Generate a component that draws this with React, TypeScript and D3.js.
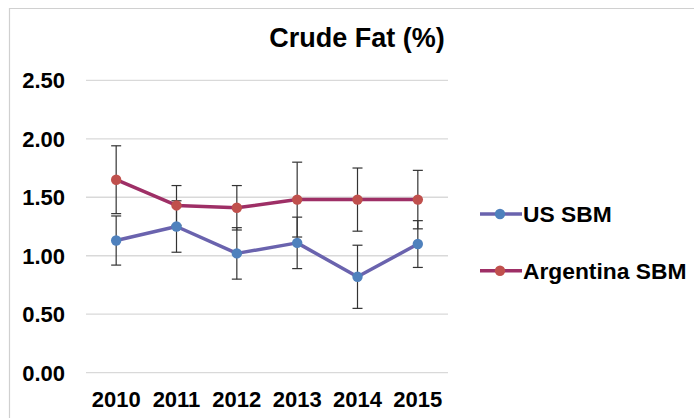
import React from "react";
import * as d3 from "d3";

const years = ["2010", "2011", "2012", "2013", "2014", "2015"];
const usValues = [1.13, 1.25, 1.02, 1.11, 0.82, 1.1];
const usErrors = [0.21, 0.22, 0.22, 0.22, 0.27, 0.2];
const arValues = [1.65, 1.43, 1.41, 1.48, 1.48, 1.48];
const arErrors = [0.29, 0.17, 0.19, 0.32, 0.27, 0.25];
const yTicks = [0, 0.5, 1, 1.5, 2, 2.5];
const seriesNames = ["US SBM", "Argentina SBM"];
const title = "Crude Fat (%)";

const W = 694;
const H = 418;
const FONT = "'Liberation Sans', Arial, sans-serif";

export default function App() {
  const x = d3.scaleBand<string>().domain(years).range([86, 448]);
  const y = d3.scaleLinear().domain([0, 2.5]).range([372.7, 80.3]);
  const cx = (d: string) => (x(d) as number) + x.bandwidth() / 2;

  const series = [
    { name: seriesNames[0], values: usValues, errors: usErrors, line: "#6A63AE", marker: "#4F81BD" },
    { name: seriesNames[1], values: arValues, errors: arErrors, line: "#9E2F66", marker: "#C0504D" },
  ];

  const lineGen = d3
    .line<number>()
    .x((_, i) => cx(years[i]))
    .y((v) => y(v));

  return (
    <svg width={W} height={H} style={{ position: "absolute", left: 0, top: 0 }}>
      <rect x={0} y={0} width={W} height={H} fill="#fff" />
      <path d={`M9.5,${H} V8.5 H${W}`} fill="none" stroke="#d0d0d0" strokeWidth={1.2} />
      <text x={357} y={47} textAnchor="middle" fontFamily={FONT} fontWeight="bold" fontSize={27} fill="#000">
        {title}
      </text>
      {yTicks.map((t) => (
        <g key={t}>
          <line x1={86} x2={448} y1={y(t)} y2={y(t)} stroke="#d9d9d9" strokeWidth={1.3} />
          <text x={65} y={y(t) + 7.8} textAnchor="end" fontFamily={FONT} fontWeight="bold" fontSize={22} fill="#000">
            {t.toFixed(2)}
          </text>
        </g>
      ))}
      {years.map((yr) => (
        <text key={yr} x={cx(yr)} y={407} textAnchor="middle" fontFamily={FONT} fontWeight="bold" fontSize={22} fill="#000">
          {yr}
        </text>
      ))}
      {series.map((s) => (
        <g key={s.name}>
          {s.values.map((v, i) => {
            const px = cx(years[i]);
            const top = y(v + s.errors[i]);
            const bot = y(v - s.errors[i]);
            return (
              <g key={i} stroke="#333" strokeWidth={1.2}>
                <line x1={px} x2={px} y1={top} y2={bot} />
                <line x1={px - 5} x2={px + 5} y1={top} y2={top} />
                <line x1={px - 5} x2={px + 5} y1={bot} y2={bot} />
              </g>
            );
          })}
        </g>
      ))}
      {series.map((s) => (
        <g key={s.name + "l"}>
          <path d={lineGen(s.values) as string} fill="none" stroke={s.line} strokeWidth={3.5} strokeLinejoin="round" />
          {s.values.map((v, i) => (
            <circle key={i} cx={cx(years[i])} cy={y(v)} r={5.2} fill={s.marker} />
          ))}
        </g>
      ))}
      {series.map((s, i) => {
        const ly = 214 + i * 56.7;
        return (
          <g key={s.name + "g"}>
            <line x1={480} x2={522} y1={ly} y2={ly} stroke={s.line} strokeWidth={3.5} />
            <circle cx={500} cy={ly} r={5.2} fill={s.marker} />
            <text x={523} y={ly + 8} fontFamily={FONT} fontWeight="bold" fontSize={22.8} fill="#000">
              {s.name}
            </text>
          </g>
        );
      })}
    </svg>
  );
}
